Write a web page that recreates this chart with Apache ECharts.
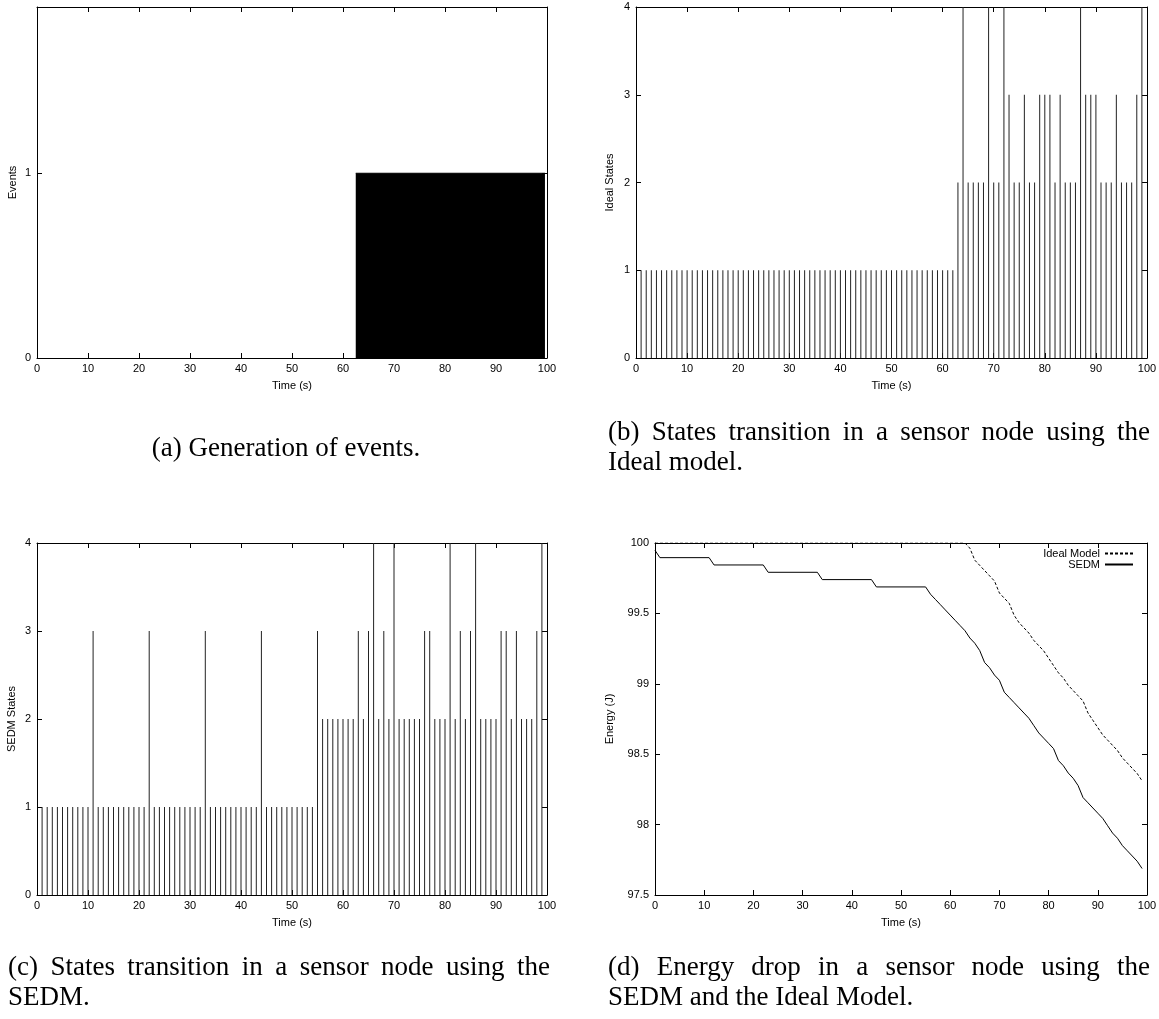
<!DOCTYPE html>
<html><head><meta charset="utf-8">
<script src="https://cdn.jsdelivr.net/npm/echarts/dist/echarts.min.js"></script>
<style>html,body{margin:0;padding:0;background:#fff}#c{width:1159px;height:1019px}</style>
</head><body><div id="c"></div>
<script>
// ---------------- DATA ----------------
// (a) events are generated continuously between these two instants (s), at level 1
const eventWindow = [62.5, 99.6];
const eventLevel = 1;

// (b) Ideal model state at each second t = 1..99
const idealStates = [
  1,1,1,1,1,1,1,1,1,1,
  1,1,1,1,1,1,1,1,1,1,
  1,1,1,1,1,1,1,1,1,1,
  1,1,1,1,1,1,1,1,1,1,
  1,1,1,1,1,1,1,1,1,1,
  1,1,1,1,1,1,1,1,1,1,
  1,1,2,4,2,2,2,2,4,2,
  2,4,3,2,2,3,2,2,3,3,
  3,2,3,2,2,2,4,3,3,3,
  2,2,2,3,2,2,2,3,4
];
// (c) SEDM state at each second t = 1..99
const sedmStates = [
  1,1,1,1,1,1,1,1,1,1,
  3,1,1,1,1,1,1,1,1,1,
  1,3,1,1,1,1,1,1,1,1,
  1,1,3,1,1,1,1,1,1,1,
  1,1,1,3,1,1,1,1,1,1,
  1,1,1,1,3,2,2,2,2,2,
  2,2,3,2,3,4,2,3,2,4,
  2,2,2,2,2,3,3,2,2,2,
  4,2,3,2,3,4,2,2,2,2,
  3,3,2,3,2,2,2,3,4
];

// (d) energy curves
const idealTime = [0,63,64,65,66,67,68,69,70,71,72,73,74,75,76,77,78,79,80,81,82,83,84,85,86,87,88,89,90,91,92,93,94,95,96,97,98,99];
const idealEnergy = [100,100,99.963,99.878,99.841,99.804,99.767,99.730,99.645,99.608,99.571,99.486,99.434,99.397,99.360,99.308,99.271,99.234,99.182,99.130,99.078,99.041,98.989,98.952,98.915,98.878,98.793,98.741,98.689,98.637,98.600,98.563,98.526,98.474,98.437,98.400,98.363,98.311];
const sedmTime = [0,1,11,12,22,23,33,34,44,45,55,56,57,58,59,60,61,62,63,64,65,66,67,68,69,70,71,72,73,74,75,76,77,78,79,80,81,82,83,84,85,86,87,88,89,90,91,92,93,94,95,96,97,98,99];
const sedmEnergy = [99.948,99.896,99.896,99.844,99.844,99.792,99.792,99.740,99.740,99.688,99.688,99.636,99.599,99.562,99.525,99.488,99.451,99.414,99.377,99.325,99.288,99.236,99.151,99.114,99.062,99.025,98.940,98.903,98.866,98.829,98.792,98.755,98.703,98.651,98.614,98.577,98.540,98.455,98.418,98.366,98.329,98.277,98.192,98.155,98.118,98.081,98.044,97.992,97.940,97.903,97.851,97.814,97.777,97.740,97.688];

const seriesNames = ['Ideal Model', 'SEDM'];
const xAxisTitle = 'Time (s)';
const yAxisTitles = ['Events', 'Ideal States', 'SEDM States', 'Energy (J)'];
const captionA = '(a) Generation of events.';
const captionB = ['(b) States transition in a sensor node using the', 'Ideal model.'];
const captionC = ['(c) States transition in a sensor node using the', 'SEDM.'];
const captionD = ['(d) Energy drop in a sensor node using the', 'SEDM and the Ideal Model.'];

// ---------------- BUILD ----------------
const SANS = '"Liberation Sans", Arial, sans-serif';
const SERIF_SIZE = 27;
const SERIF = '"Liberation Serif", "Times New Roman", serif';

function pairs(xs, ys) { return xs.map((x, i) => [x, ys[i]]); }
function impulses(states) { return states.map((v, i) => [i + 1, v]); }

const xAxes = [], yAxes = [];
function addAxes(g, ycfg, yName, yNameGap) {
  const common = {
    gridIndex: g, type: 'value', splitLine: {show: false},
    axisLine: {show: true, onZero: false, lineStyle: {color: '#000', width: 1}},
    axisTick: {show: true, inside: true, length: 5, lineStyle: {color: '#000', width: 1}}
  };
  xAxes.push(Object.assign({}, common, {
    position: 'bottom', min: 0, max: 100, interval: 10,
    axisLabel: {color: '#000', fontSize: 11, fontFamily: SANS, margin: 5},
    name: xAxisTitle, nameLocation: 'middle', nameGap: 22, nameMoveOverlap: false,
    nameTextStyle: {color: '#000', fontSize: 11, fontFamily: SANS}
  }));
  xAxes.push(Object.assign({}, common, {
    position: 'top', min: 0, max: 100, interval: 10, axisLabel: {show: false}
  }));
  yAxes.push(Object.assign({}, common, {
    position: 'left', min: ycfg.min, max: ycfg.max, interval: ycfg.interval,
    axisLabel: {color: '#000', fontSize: 11, fontFamily: SANS, margin: 6, formatter: ycfg.formatter},
    name: yName, nameLocation: 'middle', nameGap: yNameGap, nameMoveOverlap: false,
    nameTextStyle: {color: '#000', fontSize: 11, fontFamily: SANS}
  }));
  yAxes.push(Object.assign({}, common, {
    position: 'right', min: ycfg.min, max: ycfg.max, interval: ycfg.interval, axisLabel: {show: false}
  }));
}
addAxes(0, {min: 0, max: 1.9, interval: 1, formatter: v => (Number.isInteger(v) ? String(v) : '')}, yAxisTitles[0], 19);
addAxes(1, {min: 0, max: 4, interval: 1}, yAxisTitles[1], 21);
addAxes(2, {min: 0, max: 4, interval: 1}, yAxisTitles[2], 20);
addAxes(3, {min: 97.5, max: 100, interval: 0.5}, yAxisTitles[3], 40);

// caption helpers
const mctx = document.createElement('canvas').getContext('2d');
function tw(s) { mctx.font = SERIF_SIZE + 'px ' + SERIF; return mctx.measureText(s).width; }
function txt(s, x, y, align) {
  return {type: 'text', x: x, y: y, silent: true,
    style: {text: s, fill: '#000', font: SERIF_SIZE + 'px ' + SERIF,
      textAlign: align || 'left', textVerticalAlign: 'middle', align: align || 'left', verticalAlign: 'middle'}};
}
function justified(s, x0, x1, y) {
  const words = s.split(' ');
  const ws = words.map(tw);
  const total = ws.reduce((a, b) => a + b, 0);
  const gap = (x1 - x0 - total) / (words.length - 1);
  const out = []; let x = x0;
  words.forEach((w, i) => { out.push(txt(w, x, y)); x += ws[i] + gap; });
  return out;
}
const graphics = [].concat(
  [txt(captionA, 286, 449, 'center')],
  justified(captionB[0], 608, 1150, 433), [txt(captionB[1], 608, 463)],
  justified(captionC[0], 8, 550, 968), [txt(captionC[1], 8, 998)],
  justified(captionD[0], 608, 1150, 968), [txt(captionD[1], 608, 998)]
);

const option = {
  animation: false,
  backgroundColor: '#fff',
  grid: [
    {left: 37, right: 612, top: 7, bottom: 661, outerBoundsMode: 'none'},
    {left: 636, right: 12, top: 7, bottom: 661, outerBoundsMode: 'none'},
    {left: 37, right: 612, top: 543, bottom: 124, outerBoundsMode: 'none'},
    {left: 655, right: 12, top: 543, bottom: 124, outerBoundsMode: 'none'}
  ],
  xAxis: xAxes,
  yAxis: yAxes,
  legend: {
    data: seriesNames, orient: 'vertical', right: 25, top: 548, align: 'right',
    itemWidth: 28, itemHeight: 8, itemGap: 0, padding: 0,
    itemStyle: {opacity: 0},
    textStyle: {color: '#000', fontSize: 11, fontFamily: SANS, lineHeight: 11, padding: [0, 0, 0, 0]}
  },
  graphic: graphics,
  series: [
    {type: 'line', xAxisIndex: 0, yAxisIndex: 0, symbol: 'none',
     data: [[eventWindow[0], eventLevel], [eventWindow[1], eventLevel]],
     lineStyle: {color: '#000', width: 1}, itemStyle: {color: '#000'},
     areaStyle: {color: '#000', opacity: 1}},
    {type: 'bar', xAxisIndex: 2, yAxisIndex: 2, barWidth: 1, data: impulses(idealStates),
     itemStyle: {color: '#222'}},
    {type: 'bar', xAxisIndex: 4, yAxisIndex: 4, barWidth: 1, data: impulses(sedmStates),
     itemStyle: {color: '#222'}},
    {name: seriesNames[0], type: 'line', xAxisIndex: 6, yAxisIndex: 6, symbol: 'none',
     data: pairs(idealTime, idealEnergy),
     lineStyle: {color: '#000', width: 1, type: [3, 2]}, itemStyle: {color: '#000'}},
    {name: seriesNames[1], type: 'line', xAxisIndex: 6, yAxisIndex: 6, symbol: 'none',
     data: pairs(sedmTime, sedmEnergy),
     lineStyle: {color: '#000', width: 1}, itemStyle: {color: '#000'}}
  ]
};
const chart = echarts.init(document.getElementById('c'), null, {renderer: 'canvas'});
chart.setOption(option);
</script></body></html>
